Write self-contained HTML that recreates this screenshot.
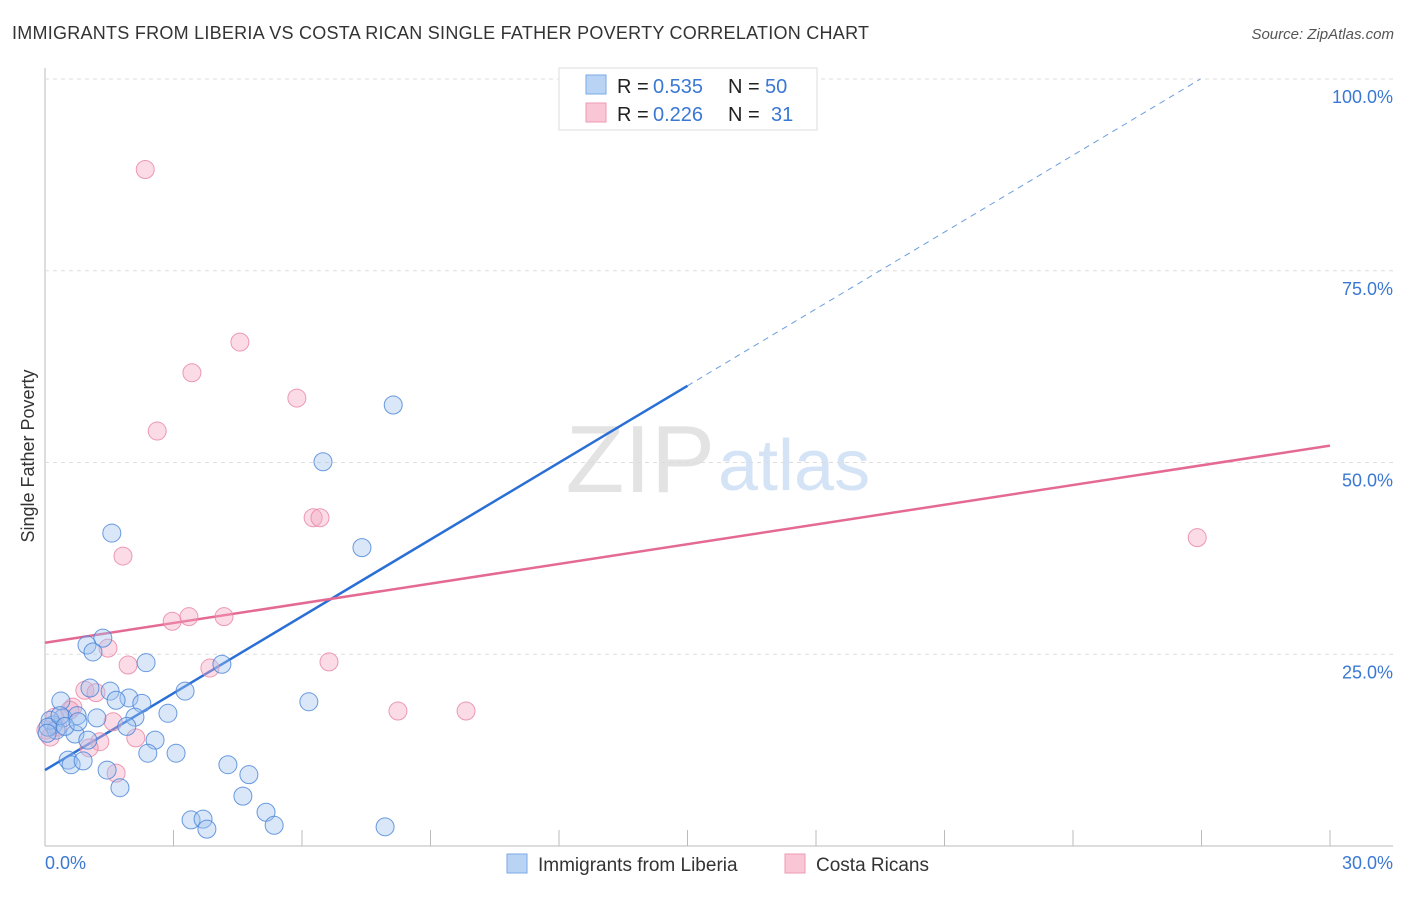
<!DOCTYPE html>
<html><head><meta charset="utf-8"><style>
body{margin:0;background:#fff;font-family:"Liberation Sans",sans-serif;}
svg text{font-family:"Liberation Sans",sans-serif;}
</style></head><body>
<svg id="chart" width="1406" height="892">
<text x="12" y="39" font-size="18" fill="#333" textLength="857">IMMIGRANTS FROM LIBERIA VS COSTA RICAN SINGLE FATHER POVERTY CORRELATION CHART</text>
<text x="1394" y="39" font-size="15" fill="#555" font-style="italic" text-anchor="end">Source: ZipAtlas.com</text>
<text x="34" y="456" font-size="18" fill="#333" transform="rotate(-90 34 456)" text-anchor="middle">Single Father Poverty</text>
<text x="715" y="492" font-size="96" fill="#e3e3e3" text-anchor="end" font-family="Liberation Serif">ZIP</text>
<text x="718" y="490" font-size="72" fill="#d4e3f5">atlas</text>
<g id="grid"></g>
<g id="lines"></g>
<g id="pts"></g>
<rect x="559" y="68" width="258" height="62" fill="#fff" stroke="#ddd"/>
<rect x="586" y="75" width="20" height="19" fill="#b9d3f5" stroke="#7aaae6"/>
<rect x="586" y="103" width="20" height="19" fill="#f9c6d5" stroke="#ee9ab3"/>
<g font-size="20">
<text x="617" y="93" fill="#222">R =</text><text x="653" y="93" fill="#3a78d4">0.535</text>
<text x="728" y="93" fill="#222">N =</text><text x="765" y="93" fill="#3a78d4">50</text></g>
<g font-size="20">
<text x="617" y="121" fill="#222">R =</text><text x="653" y="121" fill="#3a78d4">0.226</text>
<text x="728" y="121" fill="#222">N =</text><text x="771" y="121" fill="#3a78d4">31</text></g>
<text x="45" y="869" font-size="18" fill="#3a78d4">0.0%</text>
<text x="1393" y="869" font-size="18" fill="#3a78d4" text-anchor="end">30.0%</text>
<rect x="507" y="854" width="20" height="19" fill="#b9d3f5" stroke="#7aaae6"/>
<text x="538" y="871" font-size="19" fill="#333">Immigrants from Liberia</text>
<rect x="785" y="854" width="20" height="19" fill="#f9c6d5" stroke="#ee9ab3"/>
<text x="816" y="871" font-size="19" fill="#333">Costa Ricans</text>
</svg>
<script>
const yTicks=[25,50,75,100];
const yTickLabels=["25.0%","50.0%","75.0%","100.0%"];
const blueX=[8.13,6.49,7.40,1.56,6.16,1.35,0.98,1.12,2.36,4.13,3.27,0.37,1.05,1.52,1.96,1.66,2.26,0.42,1.21,0.75,2.10,2.87,0.19,0.26,0.70,1.91,2.57,3.06,2.40,0.54,0.61,0.89,1.45,4.27,4.76,1.75,4.62,5.16,3.41,3.69,3.78,5.35,7.94,0.12,0.07,0.35,0.47,0.77,0.05,1.00];
const blueY=[57.5,50.1,38.9,40.8,18.8,27.1,26.2,25.3,23.9,23.7,20.2,18.9,20.6,20.2,19.3,19.0,18.6,16.7,16.7,17.0,16.8,17.3,15.8,15.1,14.6,15.6,13.8,12.1,12.1,11.2,10.6,11.1,9.9,10.6,9.3,7.6,6.5,4.4,3.4,3.5,2.2,2.7,2.5,16.4,15.5,17.0,15.6,16.2,14.7,13.8];
const pinkX=[2.34,4.55,3.43,2.62,5.88,6.26,6.42,1.82,26.9,2.97,3.36,4.18,1.47,1.94,3.85,6.63,8.24,9.83,0.93,1.19,0.65,0.23,0.02,0.12,0.30,1.59,1.28,1.03,2.12,1.66,0.58];
const pinkY=[88.2,65.7,61.7,54.1,58.4,42.8,42.8,37.8,40.2,29.3,29.9,29.9,25.8,23.6,23.2,24.0,17.6,17.6,20.3,20.0,18.1,16.8,15.1,14.2,15.5,16.2,13.6,12.8,14.1,9.5,17.7];
const blueFit=[9.9,60.0]; // y at x=0, x=15
const pinkFit=[26.5,52.2]; // y at x=0, x=30
const X=v=>45+v/30*1285, Y=v=>846-v*7.67;
const NS="http://www.w3.org/2000/svg";
function mk(t,a,p){const e=document.createElementNS(NS,t);for(const k in a)e.setAttribute(k,a[k]);p.appendChild(e);return e;}
const grid=document.getElementById('grid'),lines=document.getElementById('lines'),pts=document.getElementById('pts');
let ax=mk('line',{x1:45,y1:68,x2:45,y2:846,stroke:'#bbb'},grid);


let bx=mk('line',{x1:45,y1:846,x2:1393,y2:846,stroke:'#bbb'},grid);


for(let i=1;i<=10;i++){const t=mk('line',{x1:X(i*3),y1:830,x2:X(i*3),y2:846,stroke:'#bbb'},grid);

}
yTicks.forEach((v,i)=>{const g=mk('line',{x1:45,y1:Y(v),x2:1393,y2:Y(v),stroke:'#ddd','stroke-dasharray':'4,4'},grid);


const t=mk('text',{x:1393,y:Y(v)+24,'font-size':18,fill:'#3a78d4','text-anchor':'end'},grid);t.textContent=yTickLabels[i];

});
const slope=(blueFit[1]-blueFit[0])/15;
const xEnd=(100-blueFit[0])/slope;
let l1=mk('line',{x1:X(0),y1:Y(blueFit[0]),x2:X(15),y2:Y(blueFit[1]),stroke:'#2a6fd6','stroke-width':2.5},lines);


let l2=mk('line',{x1:X(15),y1:Y(blueFit[1]),x2:X(xEnd),y2:Y(100),stroke:'#6a9de0','stroke-width':1,'stroke-dasharray':'6,5'},lines);


let l3=mk('line',{x1:X(0),y1:Y(pinkFit[0]),x2:X(30),y2:Y(pinkFit[1]),stroke:'#e46a93','stroke-width':2.5},lines);


pinkX.forEach((x,i)=>{const c=mk('circle',{cx:X(x),cy:Y(pinkY[i]),r:9,fill:'rgba(246,168,192,0.4)',stroke:'rgba(232,130,162,0.8)'},pts);

});
blueX.forEach((x,i)=>{const c=mk('circle',{cx:X(x),cy:Y(blueY[i]),r:9,fill:'rgba(160,196,240,0.4)',stroke:'rgba(70,130,215,0.8)'},pts);

});
</script>
</body></html>
